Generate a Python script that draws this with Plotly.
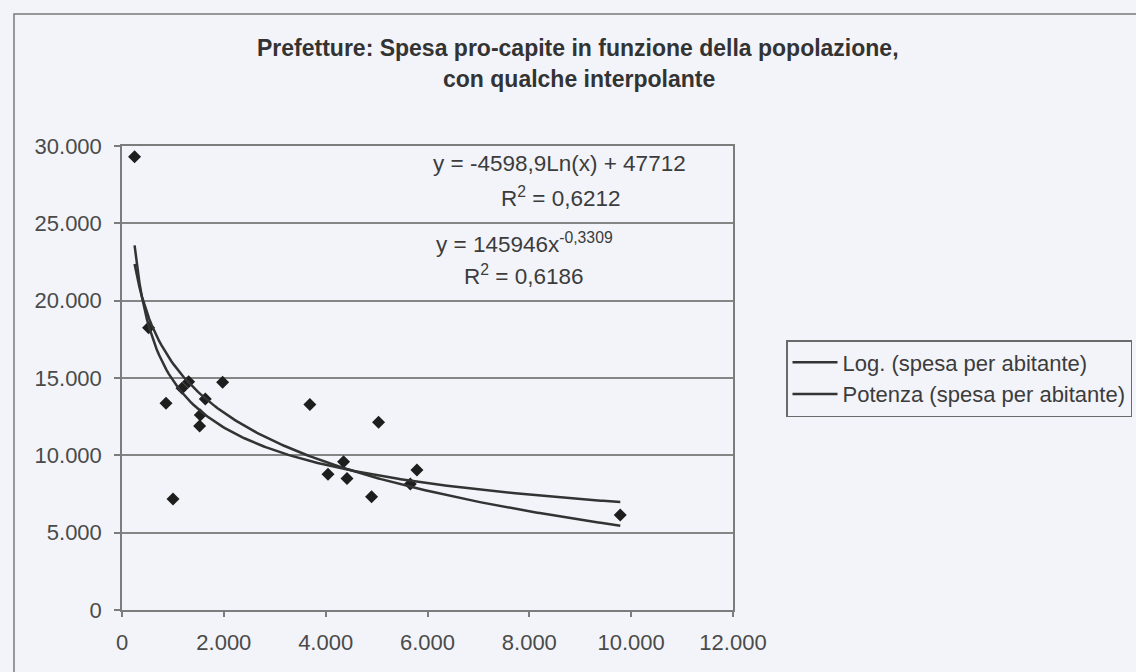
import numpy as np
import plotly.graph_objects as go

# ---- data ----
popolazione = [247, 522, 864, 1002, 1178, 1308, 1538, 1524, 1636, 1976,
               3690, 4046, 4352, 4419, 4902, 5039, 5662, 5793, 9786]
spesa_per_abitante = [29310, 18250, 13360, 7180, 14330, 14760, 12610, 11900, 13640, 14720,
                      13290, 8780, 9590, 8510, 7330, 12140, 8150, 9050, 6140]

# trendline coefficients as printed on the chart
log_coef_a, log_coef_b = -4598.9, 47712      # y = a*Ln(x) + b
pow_coef_a, pow_coef_b = 145946, -0.3309     # y = a*x^b
eq_log = ["y = -4598,9Ln(x) + 47712", "R<sup>2</sup> = 0,6212"]
eq_pow = ["y = 145946x<sup>-0,3309</sup>", "R<sup>2</sup> = 0,6186"]
title_lines = ["Prefetture: Spesa pro-capite in funzione della popolazione,",
               "con qualche interpolante"]
legend_names = ["Log. (spesa per abitante)", "Potenza (spesa per abitante)"]

x_ticks = [0, 2000, 4000, 6000, 8000, 10000, 12000]
y_ticks = [0, 5000, 10000, 15000, 20000, 25000, 30000]

# ---- layout geometry (pixels) ----
W, H = 1136, 672
L, R, T, B = 122, 403, 146, 62
PW, PH = W - L - R, H - T - B

def pxx(p):
    return (p - L) / PW

def pxy(p):
    return (H - B - p) / PH

BG = "#f2f4f9"
FONT = "Liberation Sans, Arial, sans-serif"
TXT = "#3c3c3c"

xs = np.linspace(min(popolazione), max(popolazione), 200)
y_log = log_coef_a * np.log(xs) + log_coef_b
y_pow = pow_coef_a * xs ** pow_coef_b

fig = go.Figure()
fig.add_trace(go.Scatter(x=popolazione, y=spesa_per_abitante, mode="markers",
                         marker=dict(symbol="diamond", size=10, color="#1e1e1e"),
                         showlegend=False, name="spesa per abitante"))
fig.add_trace(go.Scatter(x=xs, y=y_log, mode="lines", name=legend_names[0],
                         line=dict(color="#333333", width=2.5)))
fig.add_trace(go.Scatter(x=xs, y=y_pow, mode="lines", name=legend_names[1],
                         line=dict(color="#333333", width=2.5)))

ann = []
ann.append(dict(text="<b>" + title_lines[0] + "</b>", x=pxx(578), y=pxy(48)))
ann.append(dict(text="<b>" + title_lines[1] + "</b>", x=pxx(579), y=pxy(79)))
for a in ann:
    a.update(xref="paper", yref="paper", showarrow=False, xanchor="center", yanchor="middle",
             font=dict(family=FONT, size=23, color="#333333"))
eq_ann = [
    dict(text=eq_log[0], x=pxx(559), y=pxy(163)),
    dict(text=eq_log[1], x=pxx(560), y=pxy(197)),
    dict(text=eq_pow[0], x=pxx(524), y=pxy(243)),
    dict(text=eq_pow[1], x=pxx(523), y=pxy(275)),
]
for a in eq_ann:
    a.update(xref="paper", yref="paper", showarrow=False, xanchor="center", yanchor="middle",
             font=dict(family=FONT, size=22.5, color=TXT))
ann += eq_ann

axis_common = dict(showline=True, linecolor="#7c7c7c", linewidth=1.5, mirror=True,
                   ticks="outside", tickcolor="#7c7c7c", tickwidth=1.5,
                   tickformat=",", zeroline=False,
                   tickfont=dict(family=FONT, size=22, color="#4a4a4a"))

fig.update_layout(
    width=W, height=H,
    margin=dict(l=L, r=R, t=T, b=B, autoexpand=False),
    paper_bgcolor=BG, plot_bgcolor=BG,
    separators=",.",
    xaxis=dict(range=[0, 12000], tickvals=x_ticks, showgrid=False, ticklen=5,
               ticklabelstandoff=7, **axis_common),
    yaxis=dict(range=[0, 30000], tickvals=y_ticks, showgrid=True, gridcolor="#858585",
               gridwidth=1.5, ticklen=6, ticklabelstandoff=8, **axis_common),
    legend=dict(x=pxx(786), y=pxy(340), xanchor="left", yanchor="top",
                bgcolor=BG, bordercolor="#6a6a6a", borderwidth=1.5,
                font=dict(family=FONT, size=22, color=TXT),
                itemwidth=45, tracegroupgap=0),
    annotations=ann,
    shapes=[dict(type="rect", xref="paper", yref="paper",
                 x0=pxx(14), x1=pxx(1141), y0=pxy(14), y1=pxy(700),
                 line=dict(color="#7a7a7a", width=1.5))],
    showlegend=True,
)

fig.write_html("out.html")
